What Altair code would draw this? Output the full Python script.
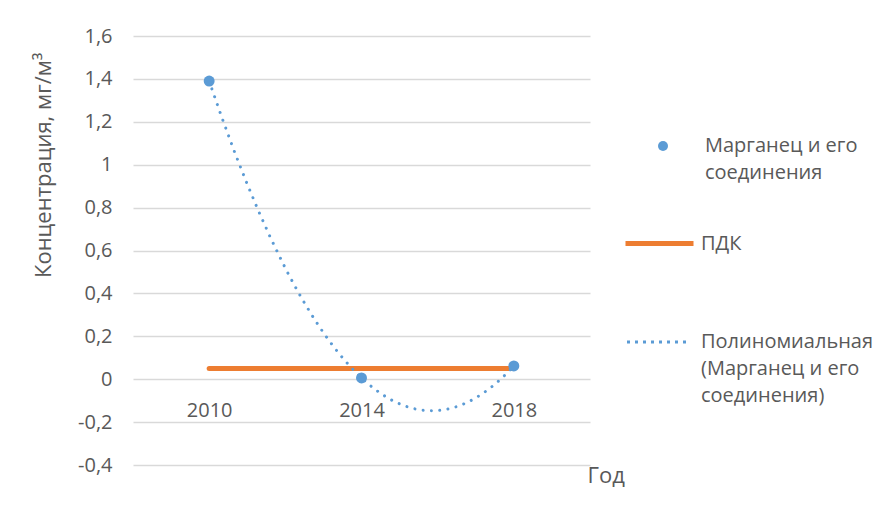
import altair as alt
import pandas as pd

# ---- data ----
years = [2010, 2014, 2018]
manganese = [1.39, 0.006, 0.062]
pdk_value = 0.05
y_ticks = [-0.4, -0.2, 0, 0.2, 0.4, 0.6, 0.8, 1.0, 1.2, 1.4, 1.6]
series_points = ["Марганец и его", "соединения"]
series_pdk = ["ПДК"]
series_trend = ["Полиномиальная", "(Марганец и его", "соединения)"]

BLUE = "#5B9BD5"
ORANGE = "#ED7D31"
TEXT = "#595959"
GRID = "#D9D9D9"
FONT = "Open Sans"
FS = 20
TFS = 22

df_pts = pd.DataFrame({"year": years, "value": manganese, "series": series_points[0]})
df_pdk = pd.DataFrame({"year": [min(years), max(years)],
                       "value": [pdk_value, pdk_value],
                       "series": series_pdk[0]})

x_scale = alt.Scale(domain=[2008, 2020], nice=False)
y_scale = alt.Scale(domain=[-0.4, 1.6], nice=False, zero=False)

x_axis = alt.Axis(values=years, format="d", grid=False, domain=False, ticks=False,
                  tickSize=0, offset=-86, labelPadding=31, labelBaseline="middle",
                  title="Год", titleX=454, titleY=96, titleAlign="left",
                  titleBaseline="middle")
y_axis = alt.Axis(values=y_ticks, labelExpr="replace(toString(datum.value), '.', ',')",
                  domain=False, ticks=False, labelPadding=21,
                  gridColor=GRID, gridWidth=1.3,
                  title="Концентрация, мг/м³", titleX=-90, titleY=16, titleAngle=270,
                  titleAlign="right", titleBaseline="middle")

pdk = alt.Chart(df_pdk).mark_line(strokeWidth=5, strokeCap="round").encode(
    x=alt.X("year:Q", scale=x_scale, axis=x_axis),
    y=alt.Y("value:Q", scale=y_scale, axis=y_axis),
    stroke=alt.Stroke("series:N",
                      scale=alt.Scale(domain=series_pdk, range=[ORANGE]),
                      legend=alt.Legend(orient="none", legendX=490, legendY=171,
                                        symbolType="stroke", symbolSize=4624,
                                        symbolStrokeWidth=5, labelOffset=5,
                                        title=None)),
)

trend = alt.Chart(df_pts).transform_regression(
    "year", "value", method="poly", order=2
).transform_calculate(
    series="'" + series_trend[0] + "'"
).mark_line(strokeWidth=3, strokeCap="round", strokeDash=[0.01, 8.3]).encode(
    x=alt.X("year:Q", scale=x_scale),
    y=alt.Y("value:Q", scale=y_scale),
    stroke=alt.Stroke("series:N",
                      scale=alt.Scale(domain=series_trend,
                                      range=[BLUE, "transparent", "transparent"]),
                      legend=alt.Legend(orient="none", legendX=514, legendY=296,
                                        symbolType="M-6,0H6", symbolSize=100,
                                        symbolStrokeWidth=3, symbolDash=[3, 5],
                                        labelOffset=34, rowPadding=7, labelLimit=300,
                                        title=None)),
)

points = alt.Chart(df_pts).mark_circle(size=120, opacity=1).encode(
    x=alt.X("year:Q", scale=x_scale),
    y=alt.Y("value:Q", scale=y_scale),
    fill=alt.Fill("series:N",
                  scale=alt.Scale(domain=series_points, range=[BLUE, "transparent"]),
                  legend=alt.Legend(orient="none", legendX=520, legendY=100,
                                    symbolType="circle", symbolSize=100,
                                    labelOffset=32, rowPadding=7, labelLimit=300,
                                    title=None)),
)

chart = alt.layer(pdk, trend, points).resolve_scale(
    stroke="independent"
).properties(
    width=457, height=429,
    autosize=alt.AutoSizeParams(type="none"),
    padding={"left": 125, "top": 28, "right": 284, "bottom": 40},
).configure_view(
    strokeWidth=0
).configure_axis(
    labelFont=FONT, labelFontSize=FS, labelColor=TEXT,
    titleFont=FONT, titleFontSize=TFS, titleColor=TEXT, titleFontWeight="normal",
).configure_legend(
    labelFont=FONT, labelFontSize=FS, labelColor=TEXT,
)

chart.save("out.html", embed_options={"renderer": "svg", "actions": False})
